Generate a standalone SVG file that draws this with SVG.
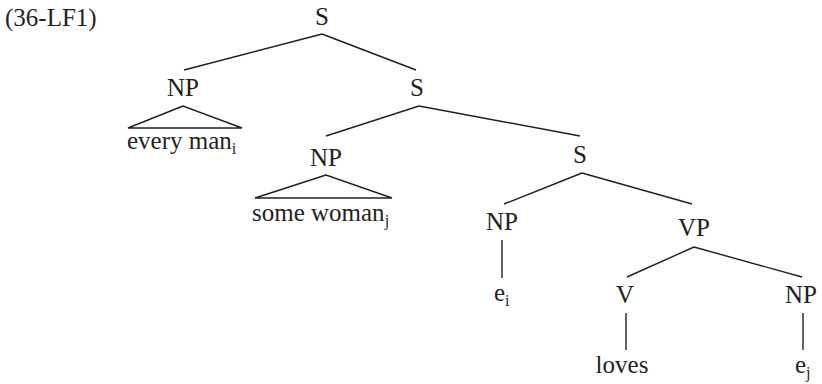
<svg xmlns="http://www.w3.org/2000/svg" width="822" height="384" viewBox="0 0 822 384">
<style>
text{font-family:"Liberation Serif","Times New Roman",serif;font-size:25px;fill:#231f20}
.c{text-anchor:middle}
.sub{font-size:16px}
.e line,.e polygon{stroke:#231f20;stroke-width:1.4;fill:none}
</style>
<rect width="822" height="384" fill="#fff"/>
<text id="label" x="5" y="26">(36-LF1)</text>
<g id="S1"><text class="c" x="322" y="25">S</text></g>
<g id="NP1"><text class="c" x="183" y="96">NP</text></g>
<g id="every"><text x="127" y="149">every man<tspan class="sub" dy="5">i</tspan></text></g>
<g id="S2"><text class="c" x="417" y="96">S</text></g>
<g id="NP2"><text class="c" x="326" y="166">NP</text></g>
<g id="some"><text x="252" y="221">some woman<tspan class="sub" dy="5">j</tspan></text></g>
<g id="S3"><text class="c" x="580" y="163">S</text></g>
<g id="NP3"><text class="c" x="502" y="230">NP</text></g>
<g id="ei"><text x="494" y="301">e<tspan class="sub" dy="5">i</tspan></text></g>
<g id="VP"><text class="c" x="694" y="236">VP</text></g>
<g id="V"><text class="c" x="625" y="303">V</text></g>
<g id="NP4"><text class="c" x="801" y="303">NP</text></g>
<g id="loves"><text class="c" x="622" y="373">loves</text></g>
<g id="ej"><text x="795" y="373">e<tspan class="sub" dy="5">j</tspan></text></g>
<g id="edges" class="e">
<line x1="322" y1="34" x2="184" y2="70"/>
<line x1="322" y1="34" x2="416" y2="70"/>
<polygon points="183,106 128,128 242,128"/>
<line x1="419" y1="106" x2="326" y2="136"/>
<line x1="419" y1="106" x2="580" y2="136"/>
<polygon points="326,175 255,198 392,198"/>
<line x1="582" y1="173" x2="504" y2="204"/>
<line x1="582" y1="173" x2="692" y2="204"/>
<line x1="502" y1="240" x2="502" y2="278"/>
<line x1="694" y1="247" x2="627" y2="277"/>
<line x1="694" y1="247" x2="802" y2="277"/>
<line x1="626" y1="313" x2="626" y2="350"/>
<line x1="803" y1="313" x2="803" y2="350"/>
</g>
</svg>
